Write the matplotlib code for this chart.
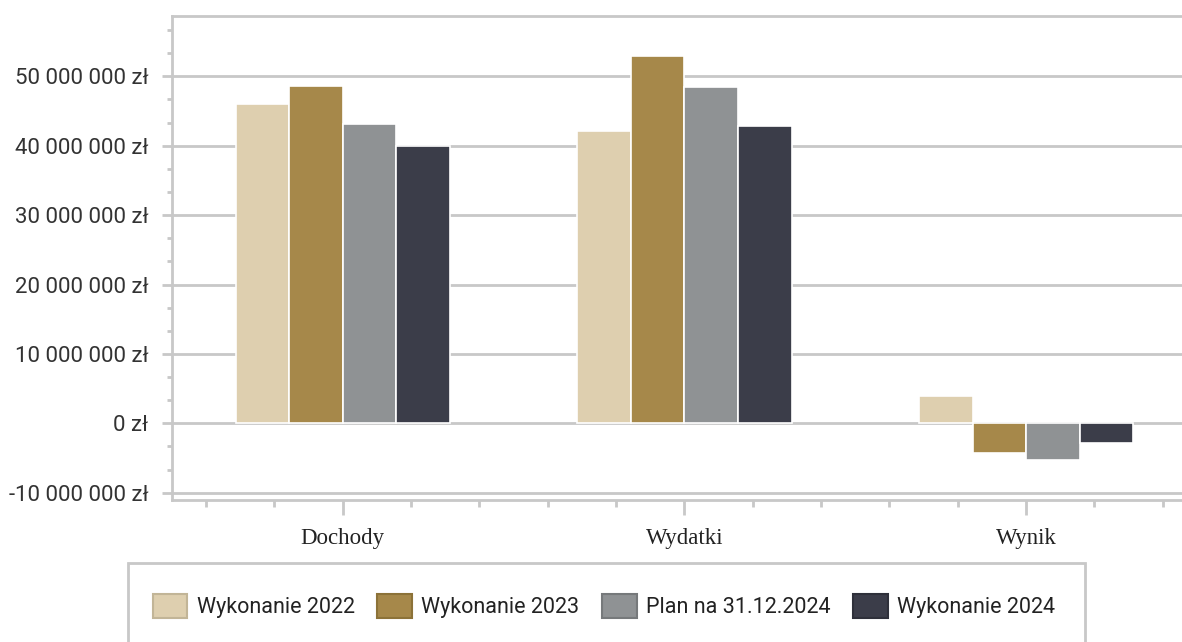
import numpy as np
import matplotlib
matplotlib.use('Agg')
import matplotlib.pyplot as plt
from matplotlib.ticker import FuncFormatter, MultipleLocator, FixedLocator
from matplotlib.patches import Rectangle, Patch

# data (zł)
categories = ['Dochody', 'Wydatki', 'Wynik']
series_names = ['Wykonanie 2022', 'Wykonanie 2023', 'Plan na 31.12.2024', 'Wykonanie 2024']
wyk_2022 = [46050000, 42100000, 3950000]
wyk_2023 = [48560000, 52900000, -4340000]
plan_2024 = [43180000, 48400000, -5220000]
wyk_2024 = [40000000, 42800000, -2800000]

colors = ['#DECFAF', '#A6884A', '#8F9294', '#3B3D49']
edge_leg = ['#C2B597', '#8C7238', '#76797B', '#2E303A']
grid_c = '#C8C8C8'

sans = ['Roboto', 'DejaVu Sans']
fig = plt.figure(figsize=(11.82, 6.42), dpi=100)
ax = fig.add_axes([172/1182, 1-500/642, (1197-172)/1182, (500-16)/642])

x = np.arange(len(categories))
w = 0.157
offsets = [-1.5, -0.5, 0.5, 1.5]
for vals, off, c, name in zip([wyk_2022, wyk_2023, plan_2024, wyk_2024], offsets, colors, series_names):
    ax.bar(x + off*w, vals, width=w, color=c, edgecolor='white', linewidth=1.2, label=name, zorder=3)

ax.set_xlim(-0.5, 2.5)
ax.set_ylim(-11.05e6, 58.69e6)

ax.yaxis.set_major_locator(FixedLocator(np.arange(-10e6, 50e6+1, 10e6)))
ax.yaxis.set_minor_locator(MultipleLocator(10e6/3))
ax.yaxis.set_major_formatter(FuncFormatter(lambda v, p: '{:,.0f} zł'.format(v).replace(',', ' ')))
ax.grid(axis='y', which='major', color=grid_c, linewidth=2, zorder=0)

ax.set_xticks(x)
ax.set_xticklabels(categories, family='Liberation Serif', fontsize=16.5, color='#222222')
ax.xaxis.set_minor_locator(FixedLocator([v for v in np.arange(-0.4, 2.5, 0.2) if abs(v - round(v)) > 0.05]))

ax.tick_params(axis='y', which='major', length=7, width=2, color=grid_c, pad=10, labelsize=16, labelcolor='#333333')
ax.tick_params(axis='y', which='minor', length=3.5, width=2, color=grid_c)
ax.tick_params(axis='x', which='major', length=11, width=2, color=grid_c, pad=9)
ax.tick_params(axis='x', which='minor', length=5, width=2, color=grid_c)
for lab in ax.get_yticklabels():
    lab.set_family(sans)

for s in ax.spines.values():
    s.set_color(grid_c)
    s.set_linewidth(2)

# legend
fig.patches.append(Rectangle((128/1182, -0.05), (1085-128)/1182, 0.05 + (642-563)/642,
                             transform=fig.transFigure, facecolor='white',
                             edgecolor=grid_c, linewidth=2, zorder=0))
handles = [Patch(facecolor=c, edgecolor=e, linewidth=1.5) for c, e in zip(colors, edge_leg)]
fig.legend(handles, series_names, loc='center', bbox_to_anchor=(604/1182, 1-606/642), ncol=4,
           frameon=False, prop={'family': sans, 'size': 15.5}, handlelength=1.6, handleheight=1.4,
           handletextpad=0.45, columnspacing=1.05, labelcolor='#222222')

fig.savefig('out.png', dpi=100)
